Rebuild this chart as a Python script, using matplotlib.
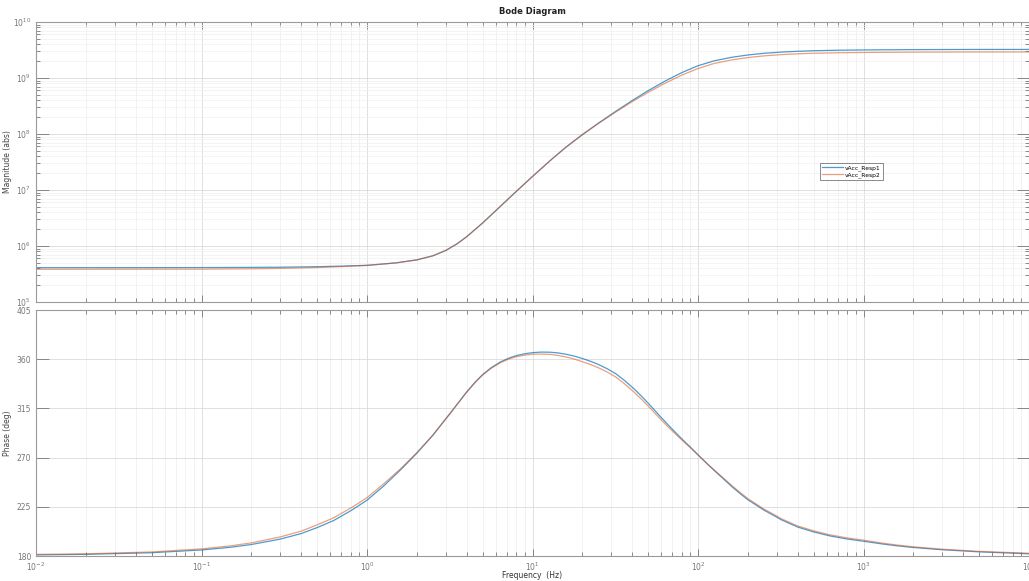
import matplotlib
matplotlib.use("Agg")
import matplotlib.pyplot as plt
from matplotlib.ticker import LogLocator, NullFormatter, FixedLocator

# ---------------- data ----------------
freq_mag = [0.01, 0.03, 0.1, 0.2, 0.3, 0.5, 0.7, 1, 1.5, 2, 2.5, 3, 3.5, 4, 5, 6.4, 8, 10,
            13, 16, 20, 25, 32, 40, 50, 63, 80, 100, 125, 160, 200, 250, 320, 400, 500,
            700, 1000, 2000, 5000, 10000]
mag_resp1 = [4.10e5, 4.10e5, 4.12e5, 4.15e5, 4.18e5, 4.27e5, 4.37e5, 4.52e5, 5.00e5, 5.65e5,
             6.68e5, 8.36e5, 1.094e6, 1.462e6, 2.582e6, 5.117e6, 9.506e6, 1.746e7, 3.499e7,
             5.875e7, 9.750e7, 1.560e8, 2.564e8, 3.954e8, 5.943e8, 8.750e8, 1.253e9, 1.656e9,
             2.023e9, 2.344e9, 2.576e9, 2.761e9, 2.904e9, 2.999e9, 3.069e9, 3.133e9, 3.170e9,
             3.214e9, 3.236e9, 3.236e9]
mag_resp2 = [3.84e5, 3.85e5, 3.86e5, 3.92e5, 3.98e5, 4.12e5, 4.29e5, 4.49e5, 5.00e5, 5.65e5,
             6.68e5, 8.36e5, 1.094e6, 1.462e6, 2.582e6, 5.117e6, 9.506e6, 1.746e7, 3.499e7,
             5.875e7, 9.683e7, 1.538e8, 2.495e8, 3.776e8, 5.546e8, 8.017e8, 1.130e9, 1.476e9,
             1.816e9, 2.104e9, 2.317e9, 2.483e9, 2.618e9, 2.704e9, 2.767e9, 2.825e9, 2.858e9,
             2.897e9, 2.917e9, 2.917e9]

freq_ph = [0.01, 0.02, 0.05, 0.1, 0.15, 0.2, 0.3, 0.4, 0.5, 0.63, 0.8, 1, 1.26, 1.6, 2, 2.5,
           3.2, 4, 4.5, 5, 5.6, 6.4, 7.2, 8, 9, 10, 11.3, 12.8, 14.3, 16, 18, 20, 22.5, 25,
           28.5, 32, 36, 41, 46, 52, 58, 65, 72, 80, 90, 100, 115, 130, 145, 160, 180, 200,
           225, 250, 285, 320, 400, 500, 630, 800, 1000, 1300, 1600, 2000, 3000, 5000, 10000]
ph_resp1 = [181, 181.5, 183, 185.5, 188, 190.5, 195.5, 200.5, 206, 212.5, 221.5,
            231, 244, 259, 274, 290.5, 311, 330, 339, 346,
            352, 357.5, 361, 363.3, 365, 366,
            366.5, 366.4, 365.7, 364.5, 362.7, 360.7,
            358, 355.2, 351, 346.5, 340.5, 333,
            325.5, 317, 309, 301, 294, 287,
            279.5, 272.5, 263.5, 256, 249.5, 243.5,
            237, 231.5, 226.5, 222, 217.3, 213,
            206.5, 202, 198.3, 195.5, 193.5,
            191, 189.3, 187.8, 185.7, 183.8, 182]
ph_resp2 = [181.5, 182, 183.7, 186.5, 189.3, 192, 197.5, 202.7, 208.5, 215, 224,
            233.3, 246, 260, 274.5, 290.5, 311, 329.8, 338.6, 345.5,
            351.4, 356.8, 360.2, 362.3, 363.7, 364.5,
            364.7, 364.4, 363.4, 362, 360, 357.7,
            355, 352.2, 348, 343.5, 337.5, 330,
            322.7, 314.5, 306.8, 299, 292.5, 286,
            279, 272.5, 263.8, 256.5, 250.3, 244.5,
            238, 232.5, 227.5, 223, 218.3, 214,
            207.5, 203, 199.3, 196.5, 194.5,
            191.8, 190, 188.4, 186.2, 184.2, 182.5]

series_names = ["vAcc_Resp1", "vAcc_Resp2"]
mag_yticks = [1e5, 1e6, 1e7, 1e8, 1e9, 1e10]
ph_yticks = [180, 225, 270, 315, 360, 405]
x_ticks = [1e-2, 1e-1, 1e0, 1e1, 1e2, 1e3, 1e4]

# ---------------- styling ----------------
W, H = 1029, 581
plt.rcParams["font.family"] = ["DejaVu Sans"]
fig = plt.figure(figsize=(W / 100, H / 100), dpi=100, facecolor="white")

blue = "#0072BD"
red = "#D95319"
tick_col = "#777777"
spine_col = "#9A9A9A"

ax1 = fig.add_axes([36 / W, 1 - 302 / H, (1029 - 36) / W, (302 - 22) / H])
ax2 = fig.add_axes([36 / W, 1 - 556 / H, (1029 - 36) / W, (556 - 310) / H])

ax1.plot(freq_mag, mag_resp1, color=blue, lw=0.9, label=series_names[0], alpha=0.7)
ax1.plot(freq_mag, mag_resp2, color=red, lw=0.9, label=series_names[1], alpha=0.55)
ax2.plot(freq_ph, ph_resp1, color=blue, lw=0.9, alpha=0.7)
ax2.plot(freq_ph, ph_resp2, color=red, lw=0.9, alpha=0.55)

for ax in (ax1, ax2):
    ax.set_xscale("log")
    ax.set_xlim(1e-2, 1e4)
    ax.xaxis.set_major_locator(FixedLocator(x_ticks))
    ax.xaxis.set_minor_locator(LogLocator(base=10, subs=range(2, 10), numticks=100))
    ax.xaxis.set_minor_formatter(NullFormatter())
    ax.grid(True, which="major", color="#DADADA", lw=0.6)
    ax.grid(True, which="minor", axis="x", color="#EDEDED", lw=0.5)
    ax.tick_params(which="both", direction="in", top=True, right=True,
                   colors=tick_col, labelsize=5.5, width=0.6)
    ax.tick_params(which="major", length=5)
    ax.tick_params(which="minor", length=3)
    for s in ax.spines.values():
        s.set_color(spine_col)
        s.set_linewidth(0.8)
    ax.set_axisbelow(True)

ax1.set_yscale("log")
ax1.set_ylim(1e5, 1e10)
ax1.yaxis.set_major_locator(FixedLocator(mag_yticks))
ax1.yaxis.set_minor_locator(LogLocator(base=10, subs=range(2, 10), numticks=100))
ax1.yaxis.set_minor_formatter(NullFormatter())
ax1.grid(True, which="minor", axis="y", color="#F0F0F0", lw=0.5)
ax1.tick_params(axis="x", labelbottom=False)
ax1.tick_params(axis="y", which="major", length=9)
ax1.set_ylabel("Magnitude (abs)", fontsize=5.5, color="#444444")
ax1.yaxis.set_label_coords(-0.024, 0.5)
ax1.set_title("Bode Diagram", fontsize=6, fontweight="bold", color="#222222", pad=6)

ax2.set_ylim(180, 405)
ax2.yaxis.set_major_locator(FixedLocator(ph_yticks))
ax2.tick_params(axis="y", which="major", length=9)
ax2.set_ylabel("Phase (deg)", fontsize=5.5, color="#444444")
ax2.yaxis.set_label_coords(-0.024, 0.5)
ax2.set_xlabel("Frequency  (Hz)", fontsize=5.5, color="#333333")
ax2.xaxis.set_label_coords(0.5, -0.062)

leg = ax1.legend(loc="upper left", bbox_to_anchor=((820 - 36) / 993, (302 - 163) / 280),
                 fontsize=4.3, frameon=True, fancybox=False, handlelength=3.6,
                 handletextpad=0.3, borderpad=0.3, labelspacing=0.2, borderaxespad=0)
leg.get_frame().set_edgecolor("#555555")
leg.get_frame().set_linewidth(0.6)

fig.savefig("out.png", dpi=100, facecolor="white")
